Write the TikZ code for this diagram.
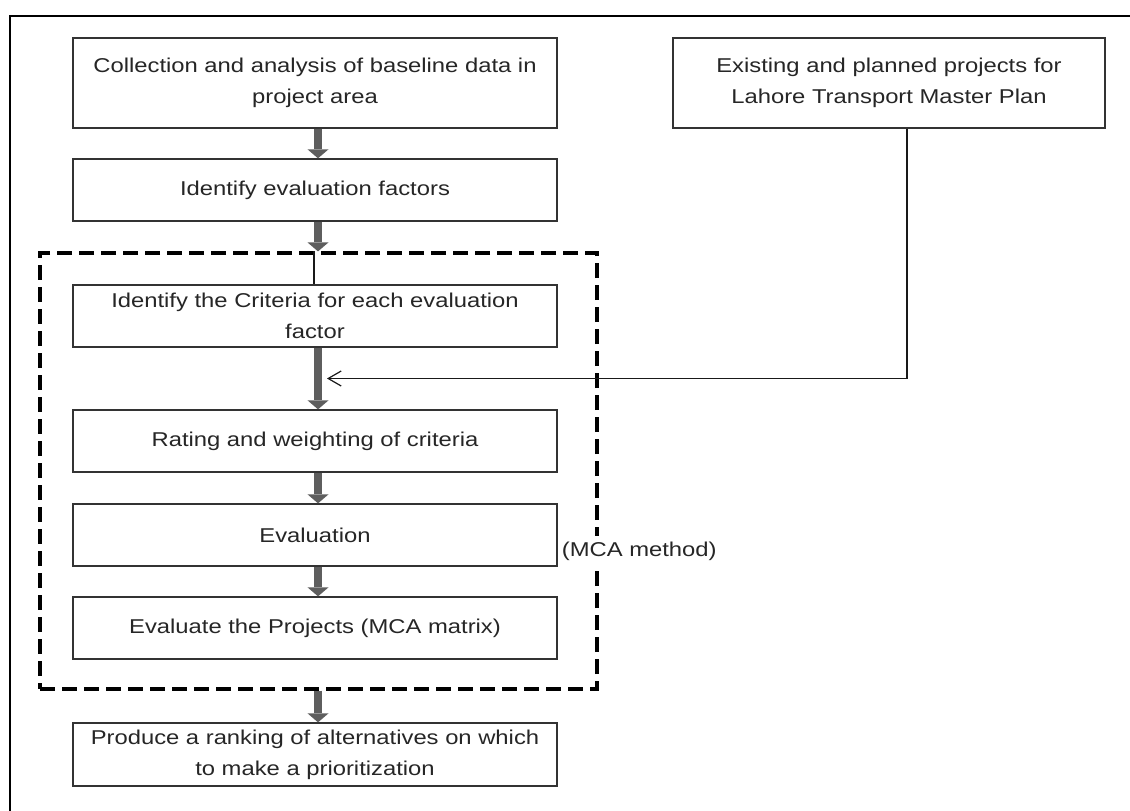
\documentclass[tikz,border=0pt]{standalone}
\usepackage{fontspec}
\setmainfont[FakeStretch=1.19]{Liberation Sans}
\usetikzlibrary{arrows.meta,calc}
\definecolor{boxline}{HTML}{333333}
\definecolor{shaft}{HTML}{5E5E5E}
\definecolor{ink}{HTML}{262626}
\begin{document}
\begin{tikzpicture}[x=1pt,y=-1pt,
  stepbox/.style={draw=boxline, line width=1.3pt, fill=white, text=ink,
    align=center, minimum width=484pt, minimum height=62pt, inner sep=2pt,
    font=\fontsize{20}{31}\selectfont},
  blockarrow/.style={draw=shaft, line width=8pt,
    -{Triangle[length=9pt,width=21pt,line width=0pt,fill=shaft]}},
  link/.style={draw=black!90, line width=1.2pt},
  mcaframe/.style={draw=black, line width=3.2pt, dash pattern=on 15pt off 7pt,
    minimum width=557pt, minimum height=436pt, inner sep=0pt},
  ]
\useasboundingbox (0,0) rectangle (1130,811);
\clip (0,0) rectangle (1130,811);

% outer frame
\draw[line width=1.6pt] (10,840) -- (10,16) -- (1160,16);

% dashed group of MCA steps
\node[mcaframe] (mca) at (318.5,471) {};

% process steps
\node[stepbox, minimum height=90pt] (b1) at (315,83)
  {Collection and analysis of baseline data in\\project area};
\node[stepbox, minimum width=432pt, minimum height=90pt] (ex) at (889,83)
  {Existing and planned projects for\\Lahore Transport Master Plan};
\node[stepbox] (b2) at (315,190) {Identify evaluation factors};
\node[stepbox] (b3) at (315,316)
  {Identify the Criteria for each evaluation\\factor};
\node[stepbox] (b4) at (315,441) {Rating and weighting of criteria};
\node[stepbox] (b5) at (315,535) {Evaluation};
\node[stepbox] (b6) at (315,628) {Evaluate the Projects (MCA matrix)};
\node[stepbox, minimum height=63pt] (b7) at (315,754.5)
  {Produce a ranking of alternatives on which\\to make a prioritization};

% method label over the dashed frame
\node[fill=white, text=ink, anchor=west, inner xsep=1pt, inner ysep=6pt,
  font=\fontsize{20}{31}\selectfont] (method)
  at ([shift={(3pt,-16pt)}]b5.east) {(MCA method)};

% flow arrows
\draw[blockarrow] ([xshift=3pt]b1.south) -- ([xshift=3pt]b2.north);
\draw[blockarrow] ([xshift=3pt]b2.south) -- ([xshift=3pt]b2.south |- mca.north);
\draw[link] ([xshift=-1pt]b3.north |- mca.north) -- ([xshift=-1pt]b3.north);
\draw[blockarrow] ([xshift=3pt]b3.south) -- ([xshift=3pt]b4.north);
\draw[blockarrow] ([xshift=3pt]b4.south) -- ([xshift=3pt]b5.north);
\draw[blockarrow] ([xshift=3pt]b5.south) -- ([xshift=3pt]b6.north);
\draw[blockarrow] ([xshift=3pt]b6.south |- mca.south) -- ([xshift=3pt]b7.north);

% input from the master plan projects
\coordinate (join) at ($([xshift=12pt]b3.south)!0.5!([xshift=12pt]b4.north)$);
\draw[link, -{Straight Barb[length=13pt,width=15pt]}]
  ([xshift=18pt]ex.south) |- (join);
\end{tikzpicture}
\end{document}
